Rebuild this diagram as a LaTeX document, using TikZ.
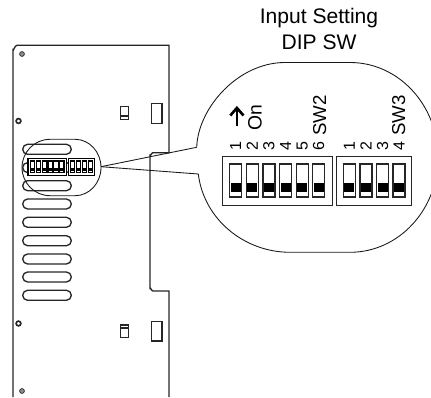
\documentclass[tikz,border=0pt]{standalone}
\usepackage{fontspec}
\setmainfont{Liberation Sans}
\begin{document}
\newcommand{\onebank}[3]{% left edge, right edge, switch list
  \draw[boxline,fill=white] (#1,156.3) rectangle (#2,205.7);
  \foreach \sx in {#3}{
    \draw[boxline,fill=white] (\sx-6,164) rectangle (\sx+6,197);
    \fill[black] (\sx-5,183) rectangle (\sx+5,192.5);
  }}
\newcommand{\bothbanks}{%
  \onebank{222.7}{332.3}{235.7,252.3,268.9,285.5,302.1,318.7}
  \onebank{336.3}{411.7}{349.3,366,382.5,399}}
\newcommand{\slotat}[1]{\draw[board,rounded corners=3.7pt] (22.7,#1-5) rectangle (71.3,#1+5);}
\begin{tikzpicture}[x=0.75pt,y=-0.75pt,
  board/.style={line width=1pt,black!85},
  thinline/.style={line width=0.65pt,black!90},
  boxline/.style={line width=0.9pt,black!85},
  tiny digit/.style={rotate=90,inner sep=0pt,font=\fontsize{12}{12}\selectfont},
  side label/.style={rotate=90,inner sep=0pt,anchor=base east,font=\fontsize{14}{14}\selectfont},
  hole/.style={line width=1.2pt,black!85,fill=white},
  gray hole/.style={line width=0.6pt,black!80,fill=black!45}]
\useasboundingbox (0,0) rectangle (431,398);
% board outline
\draw[board] (13,397) -- (13,50) to[out=-90,in=180] (17,45.3) -- (169,45.3) -- (169,152.7) -- (153,152.7)
  to[out=180,in=-90] (150,155.5) -- (150,288) to[out=90,in=180] (153,291) -- (169,291) -- (169,397);
% holes
\draw[gray hole] (22,54) circle (2.4);
\draw[hole] (18.5,121) circle (2.4);
\draw[hole] (18.5,323.5) circle (2.4);
\draw[gray hole] (22,391) circle (2.4);
% small cut-outs
\draw[boxline] (120.3,106.7) rectangle (128.7,119.3) (120.3,116) -- (128.7,116);
\draw[boxline] (151.5,103.7) rectangle (162,123.3);
\draw[boxline] (120.3,325) rectangle (128.7,337.3) (120.3,328) -- (128.7,328);
\draw[boxline] (151.5,321.3) rectangle (162,341);
% slots
\foreach \yy in {149.3,167.6,185.7,204,222.3,240.7,259,277,295.3}{\slotat{\yy}}
% small loupe
\coordinate (smallend) at (101,166.7);
\draw[thinline] (50,139.3) .. controls (34.5,139.3) and (22,152) .. (22,167.5)
  .. controls (22,183) and (34.5,195.7) .. (50,195.7) -- (75,195.7)
  .. controls (89.5,195.7) and (101,183) .. (101,167.5)
  .. controls (101,152) and (89.5,139.3) .. (75,139.3) -- cycle;
% miniature switches
\begin{scope}[shift={(-50.6,103.1)},scale=0.353]
\tikzset{boxline/.style={line width=0.85pt,black}}
\bothbanks
\end{scope}
% big loupe
\coordinate (bigtop) at (196.7,147.3);
\coordinate (bigbot) at (198.3,174);
\draw[thinline] (bigtop) .. controls (198,108) and (238,62.5) .. (285,62.5) -- (350,62.5)
  .. controls (398.6,62.5) and (438,105) .. (438,157.5)
  .. controls (438,210) and (398.6,252.3) .. (350,252.3) -- (290,252.3)
  .. controls (245,252.3) and (204,220) .. (bigbot);
\draw[thinline] (smallend) -- (bigtop);
\draw[thinline] (smallend) -- (bigbot);
% big switches
\bothbanks
% labels
\foreach \sx/\lab in {235.7/1,252.3/2,268.9/3,285.5/4,302.1/5,318.7/6,349.3/1,366/2,382.5/3,399/4}
  \node[tiny digit] (d\sx) at (\sx,145.7) {\lab};
\node[side label] (sw2) at (326,95) {SW2};
\node[side label] (sw3) at (405,95) {SW3};
\node[rotate=90,inner sep=0pt,anchor=base,font=\fontsize{14.5}{14.5}\selectfont] (on) at (261.5,117.5) {On};
\draw[line width=2pt,black] (236.9,125.7) -- (236.9,109);
\draw[line width=2pt,black,miter limit=10] (230.3,115.5) -- (236.9,108) -- (243.5,115.5);
\node[inner sep=0pt,anchor=base,font=\fontsize{15.8}{15.8}\selectfont] (t1) at (319,24) {Input Setting};
\node[inner sep=0pt,anchor=base,font=\fontsize{15.8}{15.8}\selectfont] (t2) at (319,49.3) {DIP SW};
\end{tikzpicture}
\end{document}
